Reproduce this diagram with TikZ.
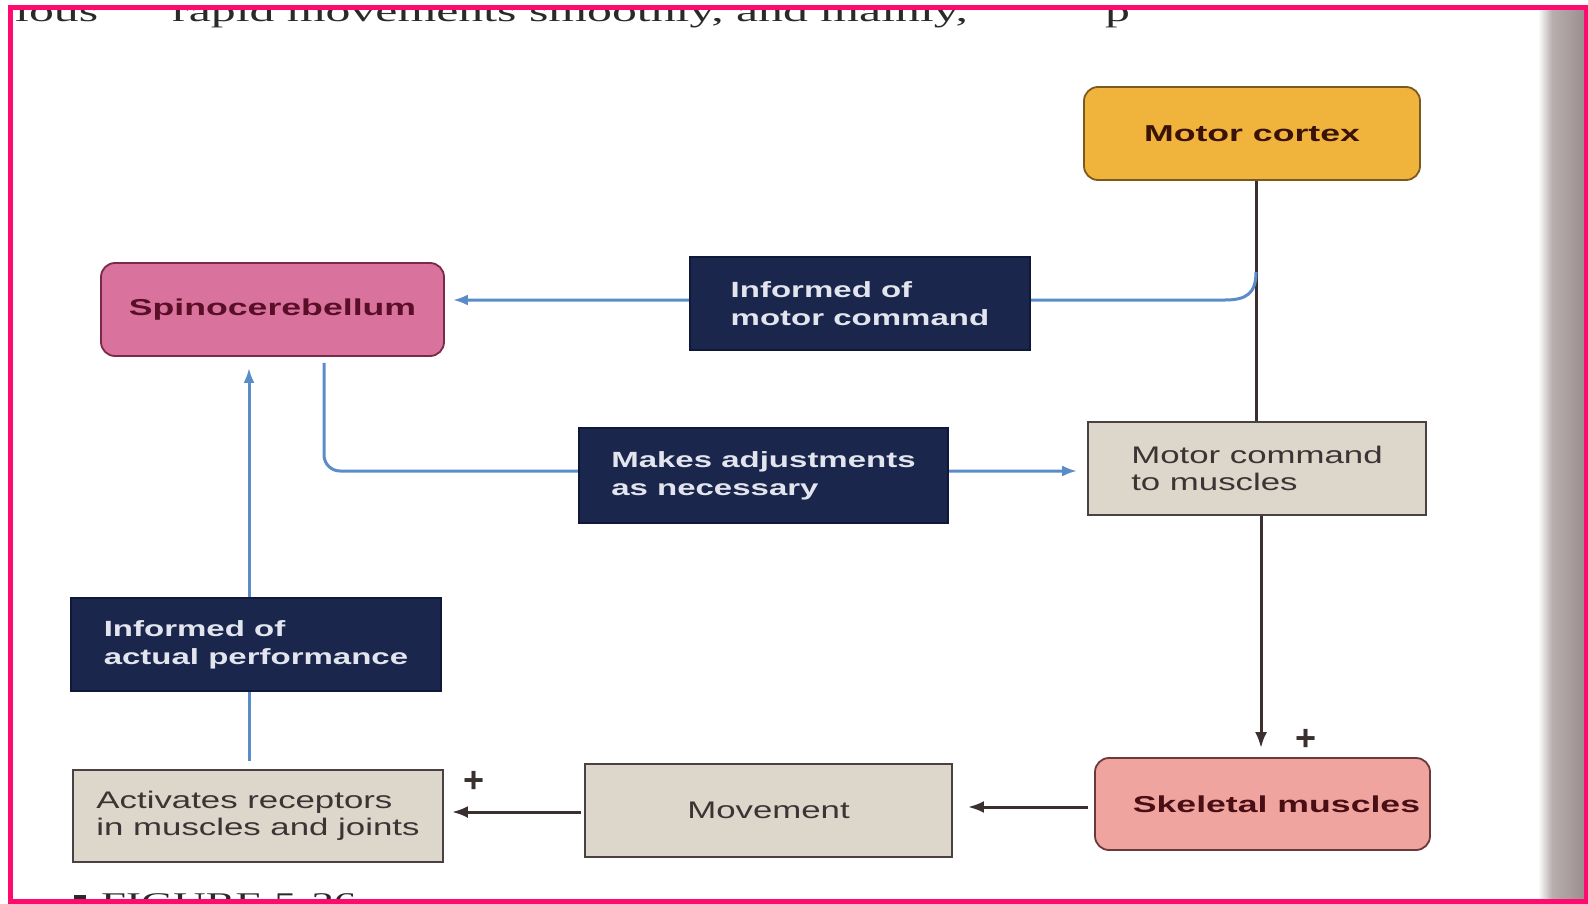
\documentclass[tikz,border=0pt]{standalone}
\usepackage{fontspec}
\usetikzlibrary{arrows.meta,calc}
\setmainfont{Liberation Sans}
\newfontfamily\titlefont[FakeStretch=1.55]{Liberation Sans}
\newfontfamily\labelfont[FakeStretch=1.5]{Liberation Sans}
\newfontfamily\plainfont[FakeStretch=1.45]{Liberation Sans}
\newfontfamily\pagefont[FakeStretch=1.66]{Liberation Serif}
\definecolor{navy}{HTML}{1B264C}
\definecolor{navyborder}{HTML}{10183A}
\definecolor{navytext}{HTML}{E2E5EE}
\definecolor{beige}{HTML}{DDD6CB}
\definecolor{beigeborder}{HTML}{4A4242}
\definecolor{plaintext}{HTML}{3A3434}
\definecolor{orangefill}{HTML}{F0B43C}
\definecolor{orangeborder}{HTML}{7A5A20}
\definecolor{mctext}{HTML}{3A1208}
\definecolor{spinfill}{HTML}{D9729C}
\definecolor{spinborder}{HTML}{7A2A48}
\definecolor{spintext}{HTML}{5A0F28}
\definecolor{skmfill}{HTML}{F0A4A0}
\definecolor{skmborder}{HTML}{6A3A3A}
\definecolor{skmtext}{HTML}{4A0F14}
\definecolor{blueline}{HTML}{5A8CC8}
\definecolor{darkline}{HTML}{3A3030}
\definecolor{frame}{HTML}{FF0A6E}
\definecolor{stripgrey}{HTML}{B8AEAE}
\definecolor{stripdark}{HTML}{9A8C8E}
\definecolor{pagetext}{HTML}{2A2A2A}
\begin{document}
\begin{tikzpicture}[x=1pt,y=-1pt,
  roundbox/.style={rounded corners=14pt, line width=1.8pt, inner sep=0pt,
    font=\titlefont\bfseries\fontsize{23}{27}\selectfont},
  labelbox/.style={draw=navyborder, fill=navy, text=navytext, line width=1.5pt,
    align=left, inner sep=0pt, font=\labelfont\bfseries\fontsize{22}{28}\selectfont},
  plainbox/.style={draw=beigeborder, fill=beige, text=plaintext, line width=1.8pt,
    align=left, inner sep=0pt, font=\plainfont\fontsize{24}{27}\selectfont},
  darkarrow/.style={draw=darkline, line width=3pt, -{Latex[length=16pt,width=12pt]}},
  bluearrow/.style={draw=blueline, line width=3pt, -{Latex[length=15pt,width=11pt]}},
  plainline/.style={draw=darkline, line width=3pt},
  plussign/.style={inner sep=0pt, text=darkline, font=\bfseries\fontsize{36}{36}\selectfont},
  pagetxt/.style={inner sep=0pt, text=pagetext, font=\pagefont\fontsize{30}{30}\selectfont}
]
\useasboundingbox (0,0) rectangle (1588,904);
\clip (0,0) rectangle (1588,904);
\fill[white] (0,0) rectangle (1588,904);

% page text (partly hidden by the frame)
\node[pagetxt, anchor=base west] (t1) at (15,22) {lous};
\node[pagetxt, anchor=base west] (t2) at (172,22) {rapid movements smoothly, and mainly,};
\node[pagetxt, anchor=base west] (t3) at (1105,22) {p};
\fill[pagetext] (74,895) rectangle (86,906);
\node[pagetxt, anchor=north west, font=\pagefont\fontsize{27}{27}\selectfont] (fig) at (101,893) {FIGURE 5-26};

% grey page edge on the right
\shade[left color=white, right color=stripgrey] (1538,0) rectangle (1552,904);
\shade[left color=stripgrey, right color=stripdark] (1552,0) rectangle (1586,904);

% main boxes
\node[roundbox, fill=orangefill, draw=orangeborder, text=mctext,
  minimum width=336pt, minimum height=93pt] (mc) at (1252,133.5) {Motor cortex};
\node[roundbox, fill=spinfill, draw=spinborder, text=spintext,
  minimum width=343pt, minimum height=93pt] (spin) at (272.5,309.5) {Spinocerebellum};
\node[plainbox, minimum width=338pt, minimum height=93pt] (cmd) at (1257,468.5)
  {Motor command\\to muscles};
\node[plainbox, minimum width=370pt, minimum height=92pt] (act) at (258,816)
  {Activates receptors\\in muscles and joints};
\node[plainbox, minimum width=367pt, minimum height=93pt] (mov) at (768.5,810.5) {Movement};
\node[roundbox, fill=skmfill, draw=skmborder, text=skmtext,
  minimum width=335pt, minimum height=92pt] (skm) at (1262.5,804) {\hspace*{28pt}Skeletal muscles};

% connector coordinates
\coordinate (vx) at (1256,0);
\coordinate (wx) at (1261,0);
\coordinate (j1) at (1256,272);
\coordinate (hy) at (0,300);
\coordinate (sx) at (324,0);
\coordinate (ay) at (0,471);
\coordinate (ux) at (249,0);
\coordinate (r1) at (0,807);
\coordinate (r2) at (0,812);

% connectors
\draw[plainline] (vx |- mc.south) -- (vx |- cmd.north);
\draw[darkarrow] (wx |- cmd.south) -- ($(wx |- skm.north)+(0,-9)$);
\draw[bluearrow] (j1) .. controls (1256,293) and (1247,300) .. (1225,300)
  -- ($(spin.east |- hy)+(8,0)$);
\draw[bluearrow, rounded corners=16pt] ($(sx |- spin.south)+(0,6)$) -- (sx |- ay)
  -- ($(cmd.west |- ay)+(-10,0)$);
\draw[bluearrow] ($(ux |- act.north)+(0,-8)$) -- ($(ux |- spin.south)+(0,11)$);
\draw[darkarrow] ($(skm.west |- r1)+(-6,0)$) -- ($(mov.east |- r1)+(15,0)$);
\draw[darkarrow] ($(mov.west |- r2)+(-3,0)$) -- ($(act.east |- r2)+(8,0)$);

% label boxes on the connectors
\node[labelbox, minimum width=340pt, minimum height=93pt] (imc) at (860,303.5)
  {Informed of\\motor command};
\node[labelbox, minimum width=369pt, minimum height=95pt] (mad) at (763.5,475.5)
  {Makes adjustments\\as necessary};
\node[labelbox, minimum width=370pt, minimum height=93pt] (iap) at (256,644.5)
  {Informed of\\actual performance};

% plus signs
\node[plussign] (p1) at (1306,740) {+};
\node[plussign] (p2) at (474,782) {+};

% frame
\fill[white] (0,0) rectangle (1588,5);
\draw[frame, line width=5pt] (10,7.5) rectangle (1586,901.5);
\end{tikzpicture}
\end{document}
